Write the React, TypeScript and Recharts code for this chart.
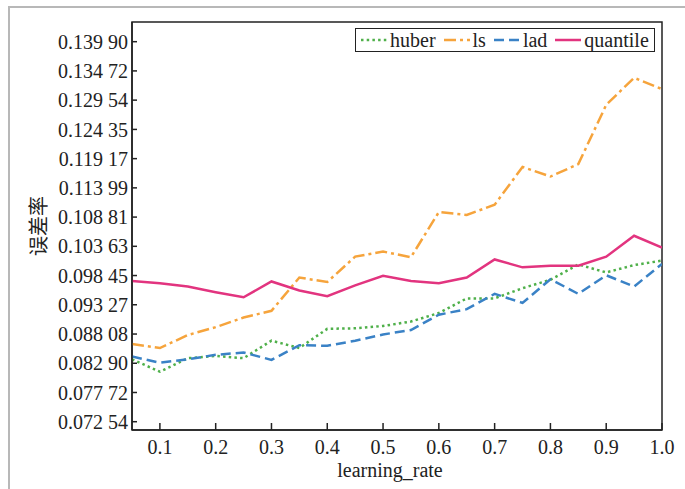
import { Label, Legend, Line, LineChart, ReferenceArea, XAxis, YAxis } from 'recharts';

const learningRates = [
  0.05, 0.1, 0.15, 0.2, 0.25, 0.3, 0.35, 0.4, 0.45, 0.5,
  0.55, 0.6, 0.65, 0.7, 0.75, 0.8, 0.85, 0.9, 0.95, 1.0,
];

const huber = [
  0.0836, 0.0814, 0.0838, 0.0842, 0.0838, 0.0869, 0.0856, 0.089, 0.0891, 0.0895,
  0.0903, 0.0918, 0.0944, 0.0944, 0.0962, 0.0977, 0.1004, 0.099, 0.1003, 0.1011,
];
const ls = [
  0.0863, 0.0856, 0.0879, 0.0893, 0.091, 0.0922, 0.0981, 0.0973, 0.1018, 0.1027,
  0.1017, 0.1097, 0.1092, 0.111, 0.1177, 0.116, 0.1182, 0.1287, 0.1335, 0.1315,
];
const lad = [
  0.0841, 0.083, 0.0836, 0.0844, 0.0848, 0.0835, 0.0861, 0.086, 0.0869, 0.088,
  0.0888, 0.0915, 0.0925, 0.0952, 0.0936, 0.0978, 0.0952, 0.0985, 0.0965, 0.1005,
];
const quantile = [
  0.0975, 0.0971, 0.0965, 0.0955, 0.0946, 0.0974, 0.0958, 0.0948, 0.0967, 0.0984,
  0.0975, 0.0971, 0.0981, 0.1013, 0.0999, 0.1002, 0.1002, 0.1018, 0.1055, 0.1034,
];

const xTicks = [0.1, 0.2, 0.3, 0.4, 0.5, 0.6, 0.7, 0.8, 0.9, 1.0];
const xTickLabels = ['0.1', '0.2', '0.3', '0.4', '0.5', '0.6', '0.7', '0.8', '0.9', '1.0'];

const yTicks = [
  0.07254, 0.07772, 0.0829, 0.08808, 0.09327, 0.09845, 0.10363,
  0.10881, 0.11399, 0.11917, 0.12435, 0.12954, 0.13472, 0.1399,
];
const yTickLabels = [
  '0.072 54', '0.077 72', '0.082 90', '0.088 08', '0.093 27', '0.098 45', '0.103 63',
  '0.108 81', '0.113 99', '0.119 17', '0.124 35', '0.129 54', '0.134 72', '0.139 90',
];

const X_DOMAIN: [number, number] = [0.05, 1.0];
const Y_DOMAIN: [number, number] = [0.07107, 0.14339];

const FONT = 'Liberation Serif, DejaVu Serif, serif';
const INK = '#222';

const seriesStyles = [
  { key: 'huber', color: '#4fb04a', dash: '2.5 3.2' },
  { key: 'ls', color: '#f6a43c', dash: '12 4 3 4' },
  { key: 'lad', color: '#3a82c6', dash: '10 5' },
  { key: 'quantile', color: '#e2347f', dash: undefined },
];

const chartData = learningRates.map((lr, i) => ({
  lr,
  huber: huber[i],
  ls: ls[i],
  lad: lad[i],
  quantile: quantile[i],
}));

function LegendBox() {
  return (
    <div
      style={{
        display: 'flex',
        alignItems: 'center',
        gap: 8,
        padding: '0 5px',
        height: 22,
        border: `1.5px solid ${INK}`,
        background: '#fff',
        fontFamily: FONT,
        fontSize: 20,
        color: INK,
        lineHeight: '22px',
      }}
    >
      {seriesStyles.map((s) => (
        <div key={s.key} style={{ display: 'flex', alignItems: 'center' }}>
          <svg width={26} height={10} style={{ marginRight: 3 }}>
            <line x1={0} y1={5} x2={26} y2={5} stroke={s.color} strokeWidth={2.5} strokeDasharray={s.dash} />
          </svg>
          <span>{s.key}</span>
        </div>
      ))}
    </div>
  );
}

export default function App() {
  return (
    <div style={{ position: 'absolute', left: 0, top: 0, width: 685, height: 489, background: '#fff', fontFamily: FONT }}>
      <div
        style={{
          position: 'absolute',
          left: 8,
          top: 6,
          right: 0,
          bottom: 0,
          borderTop: '2px solid #b8b8b8',
          borderLeft: '2px solid #b8b8b8',
        }}
      />
      <LineChart
        width={685}
        height={489}
        data={chartData}
        margin={{ top: 22, right: 23, bottom: 0, left: 0 }}
        style={{ fontFamily: FONT }}
      >
        <XAxis
          dataKey="lr"
          type="number"
          domain={X_DOMAIN}
          ticks={xTicks}
          tickFormatter={(v) => xTickLabels[xTicks.indexOf(v)] ?? String(v)}
          height={59}
          tickSize={-7}
          tickMargin={17}
          stroke={INK}
          strokeWidth={1.5}
          tick={{ fill: INK, fontSize: 20, fontFamily: FONT }}
          allowDataOverflow
        >
          <Label
            value="learning_rate"
            position="insideBottom"
            offset={12}
            dx={-7}
            style={{ fill: INK, fontSize: 20, fontFamily: FONT }}
          />
        </XAxis>
        <YAxis
          type="number"
          domain={Y_DOMAIN}
          ticks={yTicks}
          tickFormatter={(v) => yTickLabels[yTicks.indexOf(v)] ?? String(v)}
          width={132}
          tickSize={-5}
          tickMargin={9}
          stroke={INK}
          strokeWidth={1.5}
          tick={{ fill: INK, fontSize: 20, fontFamily: FONT }}
          allowDataOverflow
          interval={0}
        >
          <Label
            content={({ viewBox }: any) => {
              const cx = (viewBox?.x ?? 0) + 37;
              const cy = (viewBox?.y ?? 0) + (viewBox?.height ?? 0) / 2;
              return (
                <text
                  x={cx}
                  y={cy}
                  transform={`rotate(-90 ${cx} ${cy})`}
                  textAnchor="middle"
                  dominantBaseline="central"
                  fill={INK}
                  fontSize={20}
                  fontFamily="Noto Sans CJK SC, sans-serif"
                >
                  误差率
                </text>
              );
            }}
          />
        </YAxis>
        <ReferenceArea
          x1={X_DOMAIN[0]}
          x2={X_DOMAIN[1]}
          y1={Y_DOMAIN[0]}
          y2={Y_DOMAIN[1]}
          fill="none"
          stroke={INK}
          strokeWidth={1.5}
          ifOverflow="visible"
        />
        {seriesStyles.map((s) => (
          <Line
            key={s.key}
            type="linear"
            dataKey={s.key}
            name={s.key}
            stroke={s.color}
            strokeWidth={2.5}
            strokeDasharray={s.dash}
            dot={false}
            activeDot={false}
            isAnimationActive={false}
          />
        ))}
        <Legend
          layout="horizontal"
          verticalAlign="middle"
          align="center"
          wrapperStyle={{ left: 355, top: 28, width: 'auto', height: 'auto' }}
          content={() => <LegendBox />}
        />
      </LineChart>
    </div>
  );
}
